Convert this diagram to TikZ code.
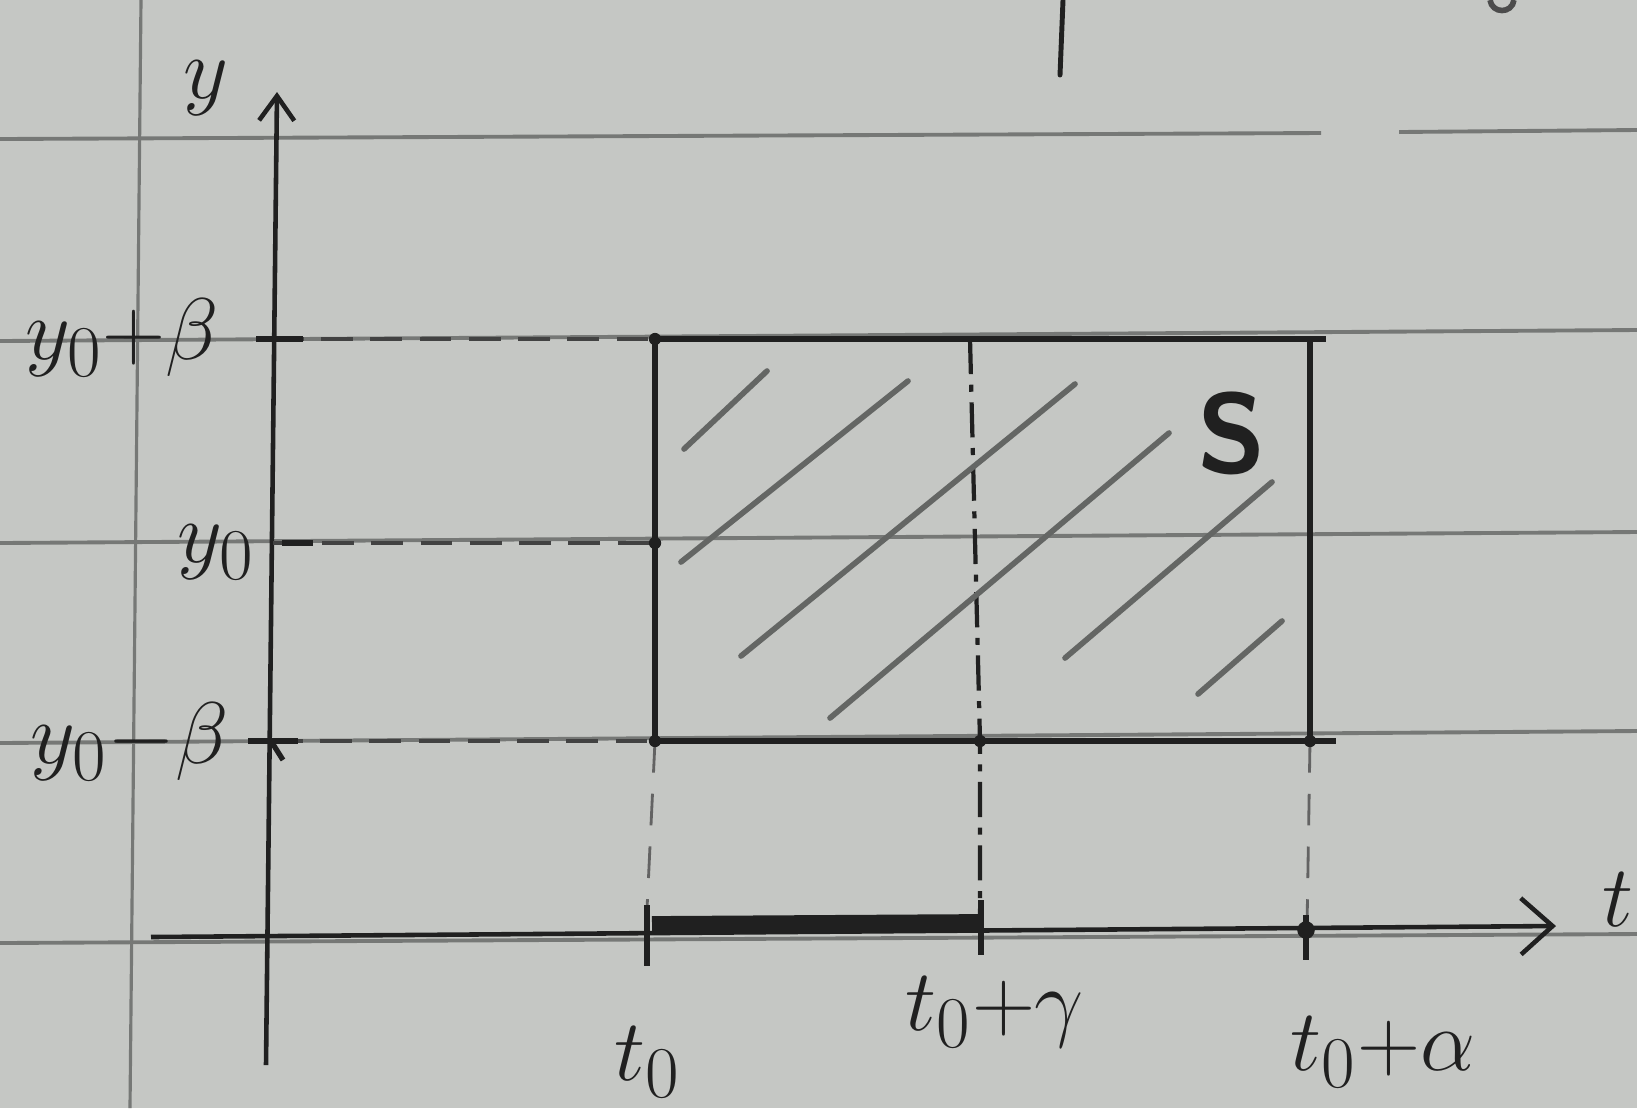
\documentclass[tikz,border=0pt]{standalone}
\usetikzlibrary{arrows.meta}
\definecolor{paper}{RGB}{197,199,196}
\definecolor{rulec}{RGB}{118,120,118}
\definecolor{ink}{RGB}{32,32,32}
\definecolor{hatchc}{RGB}{100,102,100}
\begin{document}
\begin{tikzpicture}[x=0.01cm,y=-0.01cm,
  ruled/.style={rulec, line width=1.1pt},
  axisline/.style={ink, line width=1.3pt},
  box/.style={ink, line width=1.6pt},
  guide/.style={ink!85, line width=1.1pt, dash pattern=on 9pt off 5pt},
  thinguide/.style={ink!70, line width=0.8pt, dash pattern=on 9pt off 6pt},
  dashdot/.style={ink, line width=1.2pt, dash pattern=on 10pt off 3pt on 2pt off 3pt},
  hatchline/.style={hatchc, line width=1.6pt, line cap=round},
  tick/.style={ink, line width=1.5pt},
  lbl/.style={ink, font=\fontsize{28}{28}\selectfont, inner sep=0pt},
  dot/.style={circle, fill=ink, inner sep=0pt, minimum size=3.5pt}]
% paper
\fill[paper] (0,0) rectangle (1637,1108);
\useasboundingbox (0,0) rectangle (1637,1108);
% ruled lines of the notebook
\draw[ruled] (0,139) -- (1321,133);
\draw[ruled] (1399,132) -- (1637,130);
\draw[ruled] (0,341) -- (1637,330);
\draw[ruled] (0,543) -- (1637,532);
\draw[ruled] (0,743) -- (1637,731);
\draw[ruled] (0,943) -- (1637,934);
\draw[rulec, line width=0.9pt] (141,0) -- (130,1108);
% stray strokes from the text above
\draw[ink, line width=1.4pt, line cap=round] (1063,0) -- (1060,75);
\draw[ink!80, line width=1.6pt] (1490,0) .. controls (1492,14) and (1512,14) .. (1514,0);
% key points
\coordinate (ybot) at (266,1065);
\coordinate (ytop) at (277,92);
\coordinate (tleft) at (151,937);
\coordinate (tright) at (1556,926);
\coordinate (A) at (655,339);
\coordinate (B) at (1310,339);
\coordinate (C) at (1310,741);
\coordinate (D) at (655,741);
\coordinate (M) at (655,543);
\coordinate (Gt) at (970,339);
\coordinate (Gb) at (980,741);
\coordinate (Ga) at (980,926);
\coordinate (T0) at (646,930);
\coordinate (Ta) at (1307,928);
\coordinate (Yp) at (272,339);
\coordinate (Y0) at (273,543);
\coordinate (Ym) at (271,741);
% axes
\draw[axisline, -{Straight Barb[length=7pt,width=10pt]}] (ybot) -- (ytop);
\draw[axisline, -{Straight Barb[length=9pt,width=16pt]}] (tleft) -- (tright);
% guides
\draw[guide] (Yp) -- (A);
\draw[guide] (Y0) -- (M);
\draw[guide] (Ym) -- (D);
\draw[thinguide] (D) -- (T0);
\draw[thinguide] (C) -- (Ta);
\draw[dashdot] (Gt) -- (Gb) -- (Ga);
% hatching
\draw[hatchline] (684,449) -- (767,371);
\draw[hatchline] (681,562) -- (908,381);
\draw[hatchline] (741,656) -- (1075,384);
\draw[hatchline] (830,718) -- (1169,433);
\draw[hatchline] (1065,658) -- (1272,482);
\draw[hatchline] (1198,694) -- (1282,621);
% rectangle
\draw[box] (D) -- (A) -- (1326,339);
\draw[box] (B) -- (C);
\draw[box] (D) -- (1336,741);
\node[dot] at (A) {};
\node[dot] at (M) {};
\node[dot] at (D) {};
\node[dot] at (Gb) {};
\node[dot] at (C) {};
% thick interval
\draw[ink, line width=4.5pt] (652,924) -- (981,922);
% ticks on t axis
\draw[tick] (647,905) -- (647,966);
\draw[tick] (981,900) -- (981,955);
\draw[tick] (1306,915) -- (1306,960);
\node[dot, minimum size=5pt] at (1306,930) {};
% ticks on y axis
\draw[tick] (256,339) -- (303,339);
\draw[tick] (282,543) -- (313,543);
\draw[tick] (248,741) -- (298,741);
\draw[tick] (271,741) -- (283,760);
% labels
\node[lbl] (ly) at (206,88) {$y$};
\node[lbl] (lt) at (1618,900) {$t$};
\node[lbl] (lyp) at (122,338) {$y_0{+}\beta$};
\node[lbl] (ly0) at (216,552) {$y_0$};
\node[lbl] (lym) at (130,742) {$y_0{-}\beta$};
\node[lbl] (lt0) at (648,1062) {$t_0$};
\node[lbl] (ltg) at (995,1012) {$t_0{+}\gamma$};
\node[lbl] (lta) at (1383,1052) {$t_0{+}\alpha$};
\node[ink, font=\fontsize{32}{32}\selectfont\sffamily\bfseries, inner sep=0pt] (lS) at (1232,433) {S};
\end{tikzpicture}
\end{document}
